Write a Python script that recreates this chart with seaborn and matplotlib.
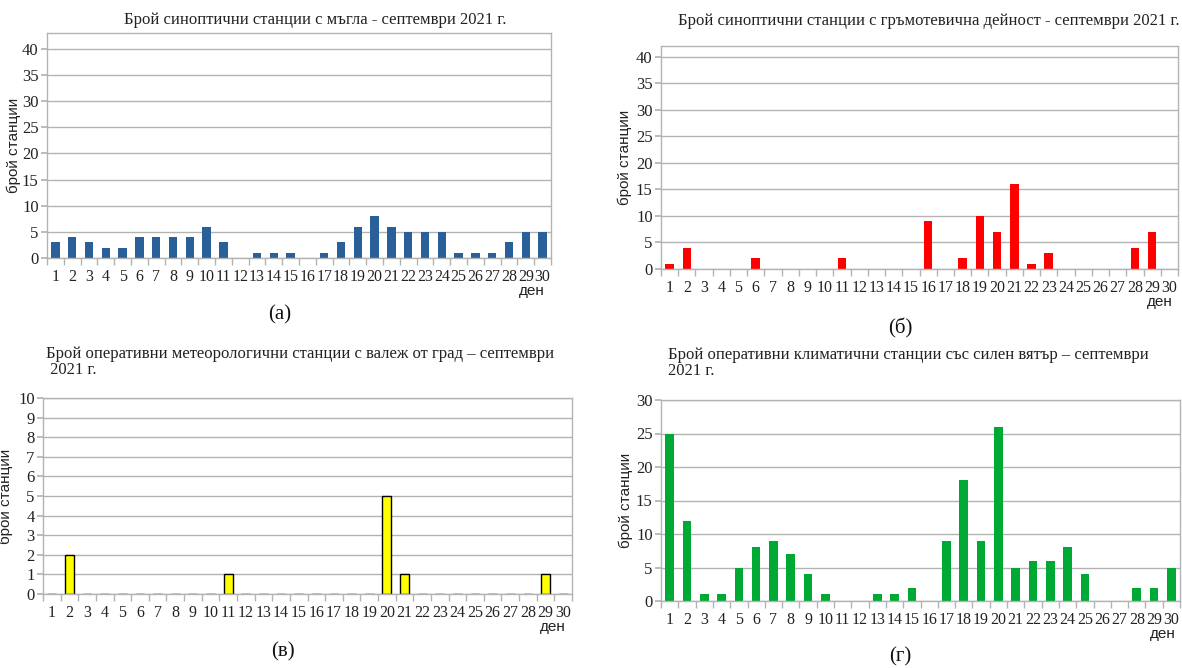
import matplotlib
matplotlib.use("Agg")
import matplotlib.pyplot as plt
import seaborn as sns
import pandas as pd
import numpy as np

sns.set_theme(style="white")
plt.rcParams['font.family'] = ['Liberation Serif', 'DejaVu Serif']

days = list(range(1, 31))
fog = [3, 4, 3, 2, 2, 4, 4, 4, 4, 6, 3, 0, 1, 1, 1, 0, 1, 3, 6, 8, 6, 5, 5, 5, 1, 1, 1, 3, 5, 5]
thunder = [1, 4, 0, 0, 0, 2, 0, 0, 0, 0, 2, 0, 0, 0, 0, 9, 0, 2, 10, 7, 16, 1, 3, 0, 0, 0, 0, 4, 7, 0]
hail = [0, 2, 0, 0, 0, 0, 0, 0, 0, 0, 1, 0, 0, 0, 0, 0, 0, 0, 0, 5, 1, 0, 0, 0, 0, 0, 0, 0, 1, 0]
wind = [25, 12, 1, 1, 5, 8, 9, 7, 4, 1, 0, 0, 1, 1, 2, 0, 9, 18, 9, 26, 5, 6, 6, 8, 4, 0, 0, 2, 2, 5]

titles = [
    "Брой синоптични станции с мъгла - септември 2021 г.",
    "Брой синоптични станции с гръмотевична дейност - септември 2021 г.",
    "Брой оперативни метеорологични станции с валеж от град – септември\n 2021 г.",
    "Брой оперативни климатични станции със силен вятър – септември\n2021 г.",
]
panel_labels = ["(а)", "(б)", "(в)", "(г)"]
ylabel = "брой станции"
xlabel_extra = "ден"

W, H = 1182, 668
fig = plt.figure(figsize=(W / 100, H / 100), dpi=100)

def rect(x0, y0, x1, y1):
    return [x0 / W, 1 - y1 / H, (x1 - x0) / W, (y1 - y0) / H]

specs = [
    dict(vals=fog, color="#2a6099", edge="none", rect=rect(47, 33, 551, 258), ylim=43,
         yticks=range(0, 41, 5), title_xy=(315, 20), title_ha="center",
         ylab_x=14, lab_xy=(280, 315), den_xy=(532, 291)),
    dict(vals=thunder, color="#ff0000", edge="none", rect=rect(661, 46, 1178, 269), ylim=42,
         yticks=range(0, 41, 5), title_xy=(1180, 21), title_ha="right",
         ylab_x=625, lab_xy=(900, 328), den_xy=(1160, 302)),
    dict(vals=hail, color="#ffff00", edge="black", rect=rect(43, 398, 572, 594), ylim=10,
         yticks=range(0, 11, 1), title_xy=(46, 362), title_ha="left",
         ylab_x=6, lab_xy=(283, 652), den_xy=(553, 627)),
    dict(vals=wind, color="#00a933", edge="none", rect=rect(661, 400, 1180, 601), ylim=30,
         yticks=range(0, 31, 5), title_xy=(668, 363), title_ha="left",
         ylab_x=626, lab_xy=(900, 657), den_xy=(1163, 634)),
]

for i, s in enumerate(specs):
    ax = fig.add_axes(s["rect"])
    df = pd.DataFrame({"day": days, "value": s["vals"]})
    sns.barplot(data=df, x="day", y="value", ax=ax, color=s["color"], width=0.5,
                edgecolor=s["edge"], linewidth=1.0 if s["edge"] != "none" else 0,
                saturation=1)
    ax.set_xlim(-0.5, 29.5)
    ax.set_ylim(0, s["ylim"])
    ax.set_yticks(list(s["yticks"]))
    ax.yaxis.grid(True, color="#b3b3b3", linewidth=1.0)
    ax.set_axisbelow(True)
    for sp in ax.spines.values():
        sp.set_color("#b3b3b3")
        sp.set_linewidth(1.0)
    ax.tick_params(axis="y", which="major", length=4, color="#b3b3b3", labelsize=12,
                   pad=2, left=True, labelcolor="#222222")
    ax.tick_params(axis="x", which="major", length=0, labelsize=11.5, pad=8,
                   labelcolor="#222222")
    ax.set_xticks(np.arange(-0.5, 30, 1.0), minor=True)
    ax.tick_params(axis="x", which="minor", length=5, color="#b3b3b3", bottom=True)
    ax.set_xlabel("")
    ax.set_ylabel("")
    fig.text(s["ylab_x"] / W, s["rect"][1] + s["rect"][3] / 2, ylabel,
             rotation=90, ha="center", va="center", fontsize=11,
             family=["Liberation Sans Narrow", "Liberation Sans", "DejaVu Sans"],
             color="#222222")
    fig.text(s["title_xy"][0] / W, 1 - s["title_xy"][1] / H, titles[i],
             ha=s["title_ha"], va="center", fontsize=12, color="#222222",
             linespacing=1.0)
    fig.text(s["den_xy"][0] / W, 1 - s["den_xy"][1] / H, xlabel_extra,
             ha="center", va="center", fontsize=11, color="#222222",
             family=["Liberation Sans Narrow", "Liberation Sans", "DejaVu Sans"])
    fig.text(s["lab_xy"][0] / W, 1 - s["lab_xy"][1] / H, panel_labels[i],
             ha="center", va="center", fontsize=15, color="#111111")

fig.savefig("out.png", dpi=100)
